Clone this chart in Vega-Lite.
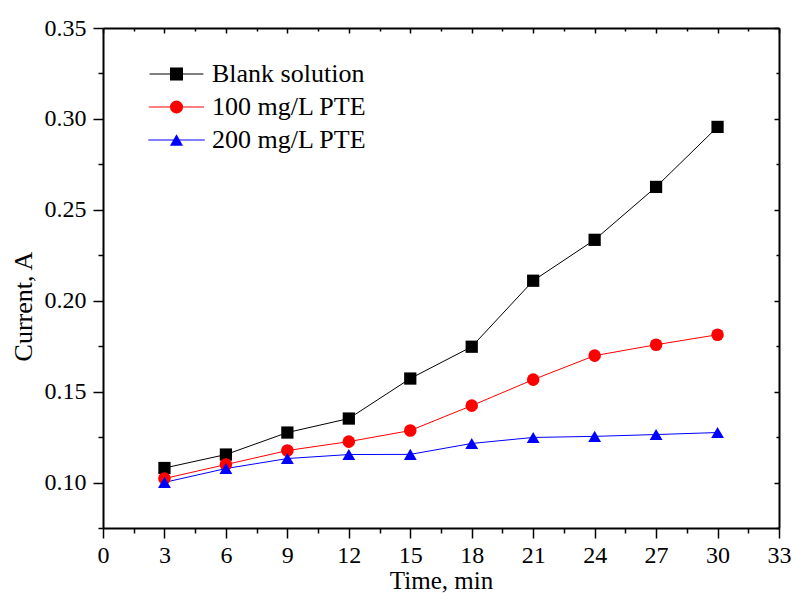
{
  "$schema": "https://vega.github.io/schema/vega-lite/v6.json",
  "width": 676,
  "height": 500,
  "autosize": {"type": "none"},
  "padding": {"left": 103, "top": 28, "right": 13, "bottom": 65},
  "background": "white",
  "config": {
    "view": {"stroke": null},
    "font": "Liberation Serif",
    "axis": {"grid": false, "domainColor": "black", "tickColor": "black", "labelColor": "black", "titleColor": "black", "labelFont": "Liberation Serif", "titleFont": "Liberation Serif", "labelFontSize": 24, "titleFontSize": 26, "titleFontWeight": "normal", "domainWidth": 2, "tickWidth": 1.5},
    "legend": {"orient": "none", "labelFontSize": 26, "labelFont": "Liberation Serif", "labelColor": "black", "rowPadding": 7, "labelLimit": 400}
  },
  "data": {"values": [
    {"t": 3, "s": "Blank solution", "c": 0.108},
    {"t": 6, "s": "Blank solution", "c": 0.1154},
    {"t": 9, "s": "Blank solution", "c": 0.1275},
    {"t": 12, "s": "Blank solution", "c": 0.1352},
    {"t": 15, "s": "Blank solution", "c": 0.1572},
    {"t": 18, "s": "Blank solution", "c": 0.1747},
    {"t": 21, "s": "Blank solution", "c": 0.211},
    {"t": 24, "s": "Blank solution", "c": 0.2335},
    {"t": 27, "s": "Blank solution", "c": 0.2626},
    {"t": 30, "s": "Blank solution", "c": 0.2956},
    {"t": 3, "s": "100 mg/L PTE", "c": 0.1022},
    {"t": 6, "s": "100 mg/L PTE", "c": 0.1099},
    {"t": 9, "s": "100 mg/L PTE", "c": 0.1176},
    {"t": 12, "s": "100 mg/L PTE", "c": 0.1225},
    {"t": 15, "s": "100 mg/L PTE", "c": 0.1286},
    {"t": 18, "s": "100 mg/L PTE", "c": 0.1423},
    {"t": 21, "s": "100 mg/L PTE", "c": 0.1566},
    {"t": 24, "s": "100 mg/L PTE", "c": 0.1698},
    {"t": 27, "s": "100 mg/L PTE", "c": 0.1758},
    {"t": 30, "s": "100 mg/L PTE", "c": 0.1813},
    {"t": 3, "s": "200 mg/L PTE", "c": 0.1001},
    {"t": 6, "s": "200 mg/L PTE", "c": 0.1077},
    {"t": 9, "s": "200 mg/L PTE", "c": 0.1132},
    {"t": 12, "s": "200 mg/L PTE", "c": 0.1154},
    {"t": 15, "s": "200 mg/L PTE", "c": 0.1155},
    {"t": 18, "s": "200 mg/L PTE", "c": 0.1215},
    {"t": 21, "s": "200 mg/L PTE", "c": 0.1248},
    {"t": 24, "s": "200 mg/L PTE", "c": 0.1254},
    {"t": 27, "s": "200 mg/L PTE", "c": 0.1264},
    {"t": 30, "s": "200 mg/L PTE", "c": 0.1275}
  ]},
  "layer": [
    {
      "mark": {"type": "line", "strokeWidth": 1, "opacity": 1},
      "encoding": {
        "x": {"field": "t", "type": "quantitative", "scale": {"domain": [0, 33], "nice": false, "zero": false},
          "axis": {"orient": "bottom", "title": "Time, min", "values": [0,1.5,3,4.5,6,7.5,9,10.5,12,13.5,15,16.5,18,19.5,21,22.5,24,25.5,27,28.5,30,31.5,33],
            "labelExpr": "datum.value % 3 === 0 ? format(datum.value, 'd') : ''",
            "tickSize": {"condition": {"test": "datum.value % 3 === 0", "value": 10}, "value": 5},
            "labelBaseline": "alphabetic", "labelPadding": 24, "labelFlush": false, "labelOverlap": false,
            "titleBaseline": "alphabetic", "titleY": 60, "titleFontSize": 25}},
        "y": {"field": "c", "type": "quantitative", "scale": {"domain": [0.075, 0.35], "nice": false, "zero": false},
          "axis": {"orient": "left", "title": "Current, A", "values": [0.075,0.1,0.125,0.15,0.175,0.2,0.225,0.25,0.275,0.3,0.325,0.35],
            "labelExpr": "round(datum.value*200) % 2 === 0 ? format(datum.value, '.2f') : ''",
            "tickSize": {"condition": {"test": "round(datum.value*200) % 2 === 0", "value": 10}, "value": 5},
            "labelPadding": 7, "labelFlush": false, "labelOverlap": false,
            "titleBaseline": "middle", "titleX": -80, "titleY": 278}},
        "stroke": {"field": "s", "type": "nominal", "scale": {"domain": ["Blank solution", "100 mg/L PTE", "200 mg/L PTE"], "range": ["#000000", "#FF0000", "#0000FF"]},
          "legend": {"title": null, "legendX": 60.5, "legendY": 33, "symbolType": "M-4.4,0H4.4", "symbolSize": 400, "symbolStrokeWidth": 1, "labelOffset": 22.5}}
      }
    },
    {
      "mark": {"type": "point", "filled": true, "opacity": 1, "strokeWidth": 0},
      "encoding": {
        "x": {"field": "t", "type": "quantitative",
          "axis": {"orient": "top", "title": null, "values": [0,1.5,3,4.5,6,7.5,9,10.5,12,13.5,15,16.5,18,19.5,21,22.5,24,25.5,27,28.5,30,31.5,33], "labels": false,
            "tickSize": {"condition": {"test": "datum.value % 3 === 0", "value": -5}, "value": -3}}},
        "y": {"field": "c", "type": "quantitative",
          "axis": {"orient": "right", "title": null, "values": [0.075,0.1,0.125,0.15,0.175,0.2,0.225,0.25,0.275,0.3,0.325,0.35], "labels": false,
            "tickSize": {"condition": {"test": "round(datum.value*200) % 2 === 0", "value": -5}, "value": -3}}},
        "fill": {"field": "s", "type": "nominal", "scale": {"domain": ["Blank solution", "100 mg/L PTE", "200 mg/L PTE", "none"], "range": ["#000000", "#FF0000", "#0000FF", "#FFFFFF"]},
          "legend": {"title": null, "legendX": 60.5, "legendY": 33, "labelExpr": "''", "symbolSize": 170, "symbolStrokeWidth": 0, "values": ["Blank solution", "100 mg/L PTE", "200 mg/L PTE"]}},
        "shape": {"field": "s", "type": "nominal", "scale": {"domain": ["Blank solution", "100 mg/L PTE", "200 mg/L PTE", "none"], "range": ["square", "circle", "triangle-up", "circle"]},
          "legend": {"title": null, "legendX": 60.5, "legendY": 33, "labelExpr": "''", "symbolSize": 170, "symbolStrokeWidth": 0, "values": ["Blank solution", "100 mg/L PTE", "200 mg/L PTE"]}},
        "size": {"field": "s", "type": "nominal", "scale": {"domain": ["Blank solution", "100 mg/L PTE", "200 mg/L PTE"], "range": [150, 165, 370]}, "legend": null}
      }
    }
  ]
}
